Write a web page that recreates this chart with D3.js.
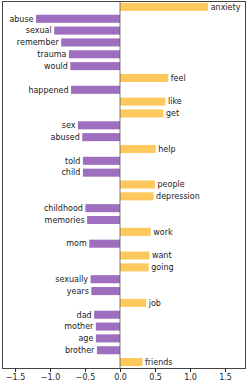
<!DOCTYPE html>
<html>
<head>
<meta charset="utf-8">
<script src="https://cdn.jsdelivr.net/npm/d3@7"></script>
<style>
  body { margin: 0; background: #fff; }
  svg { display: block; font-family: "DejaVu Sans", sans-serif; }
</style>
</head>
<body>
<div class="bar-chart"></div>
<script>
// words, top to bottom
const words = ['anxiety','abuse','sexual','remember','trauma','would','feel','happened',
  'like','get','sex','abused','help','told','child','people','depression','childhood',
  'memories','work','mom','want','going','sexually','years','job','dad','mother','age',
  'brother','friends'];
// coefficient per word
const scores = [1.26,-1.2,-0.94,-0.84,-0.73,-0.71,0.69,-0.70,
  0.65,0.62,-0.60,-0.54,0.51,-0.53,-0.53,0.50,0.48,-0.495,
  -0.47,0.44,-0.44,0.42,0.41,-0.42,-0.41,0.375,-0.37,-0.345,-0.345,
  -0.33,0.32];
const xTicks = [-1.5,-1.0,-0.5,0.0,0.5,1.0,1.5];

const chartData = words.map((w,i) => ({word:w, value:scores[i]}));

setupCanvas(chartData);

function setupCanvas(data){
  const svg_width = 249;
  const svg_height = 382;
  // 圖框位置
  const box = {left:2, right:246, top:1, bottom:368};

  const svg = d3.select('.bar-chart').append('svg')
    .attr('width', svg_width).attr('height', svg_height);

  const xScale = d3.scaleLinear().domain([-1.686,1.8]).range([box.left, box.right]);
  const yScale = d3.scaleBand().domain(data.map(d=>d.word))
    .range([box.top, box.bottom]).paddingInner(0.32).paddingOuter(0.16);

  // bars
  svg.selectAll('.bar').data(data).enter()
    .append('rect').attr('class','bar')
    .attr('x', d=>xScale(Math.min(0,d.value)))
    .attr('y', d=>yScale(d.word))
    .attr('width', d=>Math.abs(xScale(d.value)-xScale(0)))
    .attr('height', yScale.bandwidth())
    .style('fill', d=> d.value < 0 ? '#9d6fbe' : '#fec95c');

  // zero line
  svg.append('line')
    .attr('x1', xScale(0)).attr('x2', xScale(0))
    .attr('y1', box.top).attr('y2', box.bottom)
    .style('stroke','#555').style('stroke-width',0.8);

  // word labels
  svg.selectAll('.word').data(data).enter()
    .append('text').attr('class','word')
    .attr('x', d=> d.value < 0 ? xScale(d.value)-2.5 : xScale(d.value)+2.5)
    .attr('y', d=>yScale(d.word)+yScale.bandwidth()/2)
    .attr('dy','0.35em')
    .attr('text-anchor', d=> d.value < 0 ? 'end' : 'start')
    .style('font-size','8px').style('fill','#222')
    .text(d=>d.word);

  // frame
  svg.append('rect')
    .attr('x', box.left+0.5).attr('y', box.top+0.5)
    .attr('width', box.right-box.left-1).attr('height', box.bottom-box.top)
    .style('fill','none').style('stroke','#444').style('stroke-width',1);

  // x axis
  const xAxis = d3.axisBottom(xScale).tickValues(xTicks)
    .tickFormat(d3.format('.1f')).tickSizeInner(3.5).tickSizeOuter(0);
  const xAxisDraw = svg.append('g').attr('class','x axis')
    .attr('transform',`translate(0,${box.bottom+0.5})`)
    .call(xAxis);
  xAxisDraw.select('.domain').remove();
  xAxisDraw.selectAll('line').style('stroke','#222');
  xAxisDraw.selectAll('text').attr('y',5.5)
    .style('font-size','8px').style('font-family','"DejaVu Sans", sans-serif')
    .style('fill','#222');
}
</script>
</body>
</html>
